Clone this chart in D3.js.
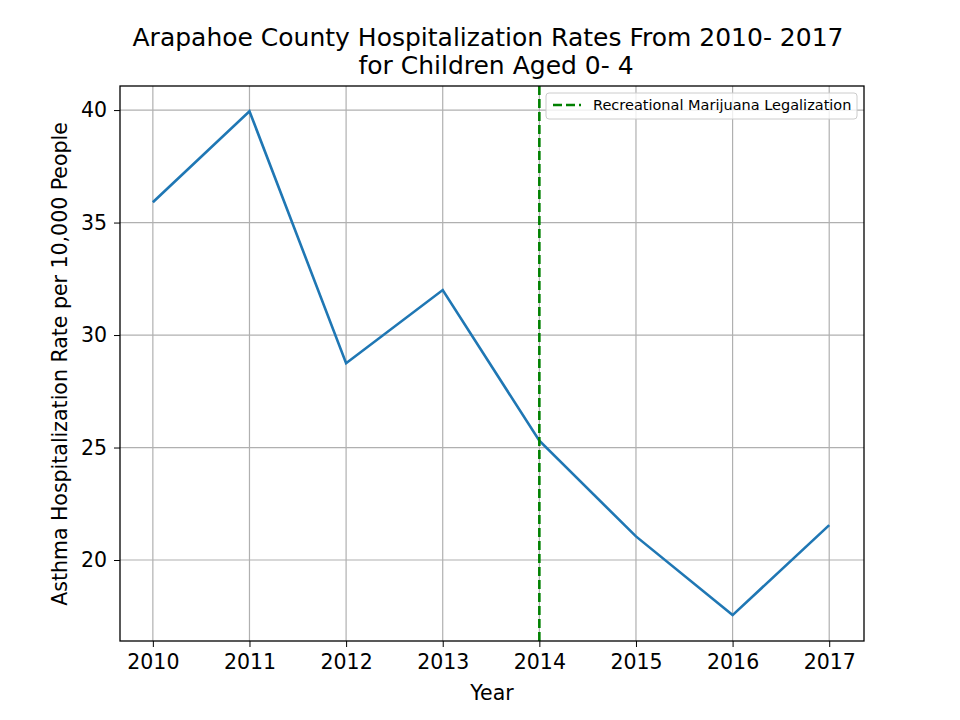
<!DOCTYPE html>
<html><head><meta charset="utf-8">
<script src="https://cdn.jsdelivr.net/npm/d3@7"></script>
<style>body{margin:0;background:#fff}text{font-family:"DejaVu Sans",sans-serif}</style>
</head><body><svg width="960" height="720"></svg>
<script>
const years=[2010,2011,2012,2013,2014,2015,2016,2017];
const rates=[35.9,39.95,28.75,32.0,25.3,21.05,17.55,21.55];
const yTicks=[20,25,30,35,40];
const legalYear=2014;
const svg=d3.select("svg");
const L=120,R=864,T=86,B=641;
const x=d3.scaleLinear().domain([2009.66,2017.36]).range([L,R]);
const y=d3.scaleLinear().domain([16.4,41.07]).range([B,T]);
const g=svg.append("g");
g.selectAll(".gx").data(years).enter().append("line").attr("x1",d=>x(d)).attr("x2",d=>x(d)).attr("y1",T).attr("y2",B).attr("stroke","#b0b0b0").attr("stroke-width",1.2);
g.selectAll(".gy").data(yTicks).enter().append("line").attr("y1",d=>y(d)).attr("y2",d=>y(d)).attr("x1",L).attr("x2",R).attr("stroke","#b0b0b0").attr("stroke-width",1.2);
g.append("path").datum(years.map((d,i)=>[d,rates[i]])).attr("d",d3.line().x(d=>x(d[0])).y(d=>y(d[1]))).attr("fill","none").attr("stroke","#1f77b4").attr("stroke-width",2.6);
g.append("line").attr("x1",x(legalYear)).attr("x2",x(legalYear)).attr("y1",T).attr("y2",B).attr("stroke","green").attr("stroke-width",2.6).attr("stroke-dasharray","9,4");
const xa=svg.append("g").attr("transform",`translate(0,${B})`).call(d3.axisBottom(x).tickValues(years).tickFormat(d3.format("d")).tickSize(6).tickPadding(7));
const ya=svg.append("g").attr("transform",`translate(${L},0)`).call(d3.axisLeft(y).tickValues(yTicks).tickSize(6).tickPadding(7));
[xa,ya].forEach(a=>{a.select(".domain").remove();a.selectAll("text").attr("font-size",20.5).attr("fill","#000").style("font-family","DejaVu Sans");a.selectAll("line").attr("stroke","#000");});
svg.append("rect").attr("x",L).attr("y",T).attr("width",R-L).attr("height",B-T).attr("fill","none").attr("stroke","#000").attr("stroke-width",1.3);
svg.append("text").attr("x",492).attr("y",700).attr("text-anchor","middle").attr("font-size",20.5).text("Year");
svg.append("text").attr("transform","translate(67,364) rotate(-90)").attr("text-anchor","middle").attr("font-size",20.5).text("Asthma Hospitalization Rate per 10,000 People");
svg.append("text").attr("x",488).attr("y",46).attr("text-anchor","middle").attr("font-size",25).text("Arapahoe County Hospitalization Rates From 2010- 2017");
svg.append("text").attr("x",496).attr("y",74).attr("text-anchor","middle").attr("font-size",25).text("for Children Aged 0- 4");
const lg=svg.append("g");
lg.append("rect").attr("x",546).attr("y",93).attr("width",311).attr("height",26).attr("rx",3).attr("fill","#fff").attr("fill-opacity",0.8).attr("stroke","#ccc");
lg.append("line").attr("x1",553).attr("x2",581).attr("y1",105).attr("y2",105).attr("stroke","green").attr("stroke-width",2.6).attr("stroke-dasharray","9,4");
lg.append("text").attr("x",593).attr("y",110).attr("font-size",14.5).text("Recreational Marijuana Legalization");
</script></body></html>
